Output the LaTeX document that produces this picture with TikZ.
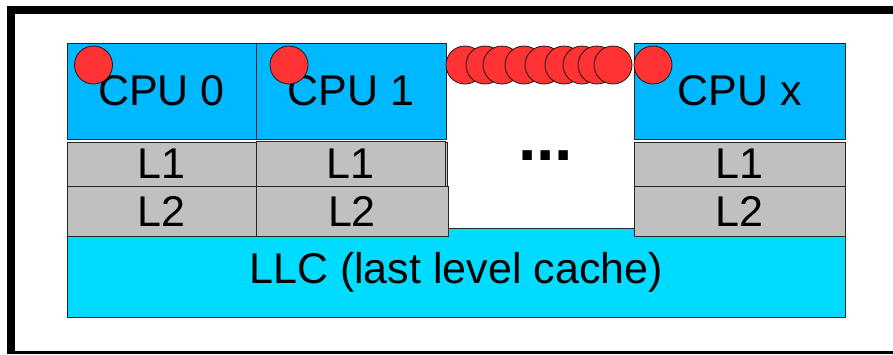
\documentclass[tikz,border=0pt]{standalone}
\usepackage{fontspec}
\setmainfont{Liberation Sans}
\definecolor{cpublue}{RGB}{0,184,255}
\definecolor{llccyan}{RGB}{0,220,255}
\definecolor{cachegrey}{RGB}{192,192,192}
\definecolor{dotred}{RGB}{255,51,51}
\begin{document}
\begin{tikzpicture}[x=1pt,y=-1pt,
  box/.style={draw=black!85,line width=1pt,inner sep=0pt,outer sep=0pt,
    font=\fontsize{43}{50}\selectfont},
  cpubox/.style={box,fill=cpublue},
  cachebox/.style={box,fill=cachegrey,minimum height=#1},
  llcbox/.style={box,fill=llccyan},
  dot/.style={circle,draw=black!90,line width=0.8pt,fill=dotred,minimum size=38pt,inner sep=0pt}]
\useasboundingbox (0,0) rectangle (893,354);
% outer frame
\draw[line width=8pt] (893,10) -- (11,10) -- (11,352);
\draw[line width=2.5pt] (7,352.5) -- (893,352.5);
% LLC
\node[llcbox,minimum width=778pt,minimum height=89pt] (llc) at (456,272.5) {LLC (last level cache)};
% CPUs
\node[cpubox,minimum width=189pt,minimum height=96pt] (cpu0) at (161.5,91) {CPU 0};
\node[cpubox,minimum width=190pt,minimum height=96pt] (cpu1) at (351,91) {CPU 1};
\node[cpubox,minimum width=211pt,minimum height=96pt] (cpux) at (739.5,91) {CPU x};
% caches
\node[cachebox=44pt,minimum width=189pt] (l1a) at (161.5,164) {L1};
\node[cachebox=50pt,minimum width=189pt] (l2a) at (161.5,211) {L2};
\draw[draw=black!85,line width=1pt,fill=cachegrey] (256,142) rectangle (447,186);
\node[cachebox=45pt,minimum width=189pt] (l1b) at (350.5,164) {L1};
\node[cachebox=50pt,minimum width=192pt] (l2b) at (352,211) {L2};
\node[cachebox=44pt,minimum width=211pt] (l1x) at (739.5,164) {L1};
\node[cachebox=50pt,minimum width=211pt] (l2x) at (739.5,211) {L2};
% ellipsis
\node[anchor=base,inner sep=0pt,font=\fontsize{66}{70}\selectfont\bfseries] (dots) at (545.5,160) {...};
% red circles
\node[dot] (c0) at (93.5,65) {};
\node[dot] (c1) at (289,65) {};
\foreach \i/\x in {1/465,2/485,3/502,4/524,5/544,6/564,7/582,8/597,9/613}
  \node[dot] (d\i) at (\x,65) {};
\node[dot] (cx) at (653,65) {};
\end{tikzpicture}
\end{document}
